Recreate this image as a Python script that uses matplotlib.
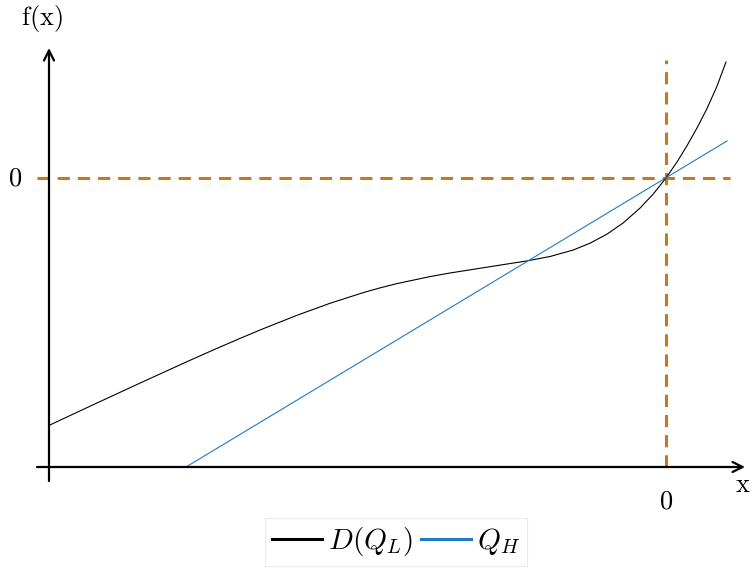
import matplotlib
matplotlib.use("Agg")
import matplotlib.pyplot as plt

plt.rcParams['mathtext.fontset'] = 'cm'
plt.rcParams['font.family'] = ['DejaVu Serif']

# Data
d_x = [-6.17, -5.71, -5.26, -4.76, -4.53, -4.26, -4.03, -3.69, -3.36, -3.03,
       -2.86, -2.69, -2.36, -2.16, -1.76, -1.39, -1.16, -0.93, -0.76, -0.59,
       -0.43, -0.26, -0.13, 0.00, 0.11, 0.21, 0.31, 0.41, 0.51, 0.60]
d_y = [-2.474, -2.259, -2.051, -1.823, -1.721, -1.604, -1.508, -1.373, -1.253, -1.147,
       -1.099, -1.056, -0.986, -0.950, -0.887, -0.829, -0.785, -0.721, -0.652, -0.561,
       -0.451, -0.301, -0.163, 0.000, 0.160, 0.323, 0.500, 0.695, 0.918, 1.160]
qh_x = [-4.80, 0.61]
qh_y = [-2.89, 0.37]
x_ticks = [0]
y_ticks = [0]
x_star = 0.0
y_star = 0.0

xmin, xmax = -6.17, 0.79
ymin, ymax = -2.89, 1.30

fig = plt.figure(figsize=(7.52, 5.71), dpi=100)
ax = fig.add_axes([49/752, 1-467/571, 696/752, 419/571])
ax.set_xlim(xmin, xmax)
ax.set_ylim(ymin, ymax)

orange = '#c47a16'
blue = '#1f7ac4'

ax.plot([x_star, x_star], [ymin, 1.18], color=orange, lw=2.2,
        dashes=(4, 2.6), zorder=1)
ax.plot([-6.29, 0.64], [y_star, y_star], color=orange, lw=2.2,
        dashes=(4, 2.6), zorder=1, clip_on=False)

l1, = ax.plot(d_x, d_y, color='black', lw=0.8, label=r'$D(Q_L)$', zorder=3,
              solid_joinstyle='round')
l2, = ax.plot(qh_x, qh_y, color=blue, lw=0.8, label=r'$Q_H$', zorder=3)

for s in ax.spines.values():
    s.set_visible(False)
ax.set_xticks([])
ax.set_yticks([])

# axis arrows
ax.annotate('', xy=(1.0, 0), xytext=(-12/696, 0), xycoords='axes fraction',
            arrowprops=dict(arrowstyle='->', lw=1.6, color='black',
                            mutation_scale=18, shrinkA=0, shrinkB=0))
ax.annotate('', xy=(0, 1.0), xytext=(0, -14/419), xycoords='axes fraction',
            arrowprops=dict(arrowstyle='->', lw=1.6, color='black',
                            mutation_scale=18, shrinkA=0, shrinkB=0))

# tick labels
for xt in x_ticks:
    ax.text(xt, ymin - 0.34, r'$0$', ha='center', va='center', fontsize=19)
for yt in y_ticks:
    ax.text(xmin - 0.34, yt, r'$0$', ha='center', va='center', fontsize=19)

ax.text(xmax - 0.02, ymin - 0.18, r'$\mathrm{x}$', ha='center', va='center', fontsize=19)
ax.text(xmin - 0.07, ymax + 0.29, r'$\mathrm{f(x)}$', ha='center', va='center', fontsize=19)

leg = fig.legend(handles=[l1, l2], loc='upper center',
                 bbox_to_anchor=(396/752, 1-518/571), ncol=2, fontsize=21,
                 frameon=True, fancybox=False, edgecolor='#e6e6e6',
                 handlelength=1.7, handletextpad=0.2, columnspacing=0.3,
                 borderpad=0.25, borderaxespad=0)
for h in leg.legend_handles:
    h.set_linewidth(2.2)
leg.get_frame().set_linewidth(0.8)

fig.savefig('out.png', dpi=100)
